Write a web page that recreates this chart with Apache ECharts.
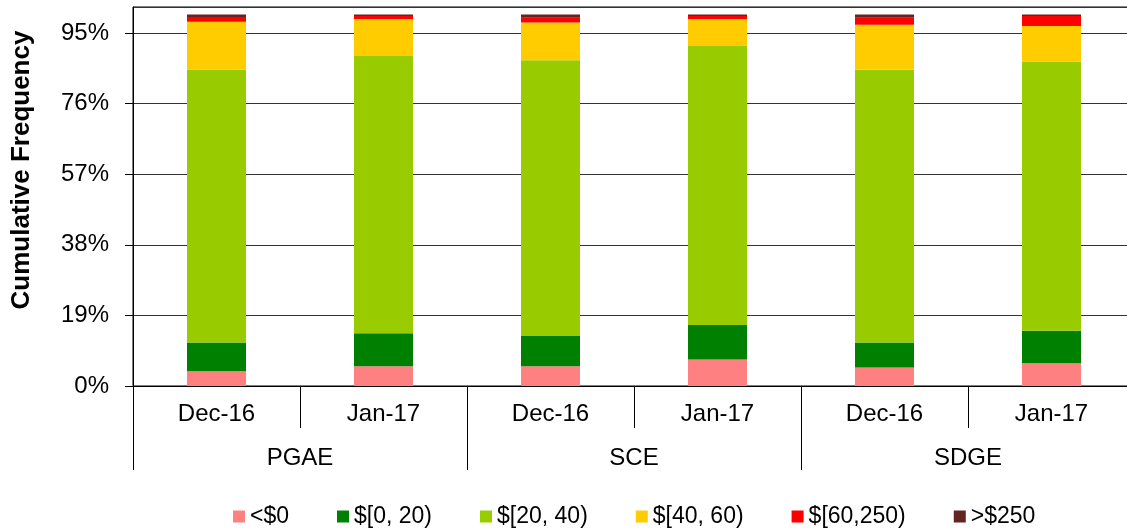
<!DOCTYPE html>
<html>
<head>
<meta charset="utf-8">
<script src="https://cdn.jsdelivr.net/npm/echarts@6/dist/echarts.min.js"></script>
<style>
  html, body { margin: 0; padding: 0; background: #fff; overflow: hidden; }
  #myChart1 { width: 1135px; height: 529px; }
</style>
</head>
<body>
<div id="myChart1"></div>
<script>
// months under each utility, utilities on the second row
var months = ['Dec-16', 'Jan-17', 'Dec-16', 'Jan-17', 'Dec-16', 'Jan-17'];
var utilities = ['PGAE', 'SCE', 'SDGE'];
var yTicks = [0, 19, 38, 57, 76, 95];

// share of each price bin (%), one value per bar
var lessThan0 = [4.0, 5.3, 5.3, 7.1, 5.0, 6.1];
var from0to20 = [7.7, 8.9, 8.3, 9.3, 6.7, 8.8];
var from20to40 = [73.5, 74.6, 74.1, 75.1, 73.4, 72.4];
var from40to60 = [12.8, 10.0, 10.1, 7.3, 12.1, 9.6];
var from60to250 = [1.3, 0.8, 1.3, 0.8, 1.9, 2.7];
var over250 = [0.7, 0.4, 0.9, 0.4, 0.9, 0.4];

var binNames = ['<$0', '$[0, 20)', '$[20, 40)', '$[40, 60)', '$[60,250)', '>$250'];
var binValues = [lessThan0, from0to20, from20to40, from40to60, from60to250, over250];
var binColors = ['#FF8080', '#008000', '#99CC00', '#FFCC00', '#FF0000', '#632523'];

var font = 'Liberation Sans, Arial, sans-serif';

// chart is a bit wider than the window, like the cropped original
var myChart = echarts.init(document.getElementById('myChart1'));

var series = binNames.map(function (name, i) {
    return {
        name: name,
        type: 'bar',
        stack: 'total',
        barWidth: 59,
        itemStyle: { color: binColors[i] },
        data: binValues[i]
    };
});

var option = {
    animation: false,
    color: binColors,
    grid: {
        left: 133,
        top: 7,
        right: 0,
        bottom: 143,
        show: true,
        borderColor: '#000',
        borderWidth: 1
    },
    graphic: [{
        type: 'text',
        x: 22,
        y: 170,
        rotation: Math.PI / 2,
        style: {
            text: 'Cumulative Frequency',
            font: 'bold 26px ' + font,
            fill: '#000',
            textAlign: 'center',
            textVerticalAlign: 'middle'
        }
    }],
    legend: {
        data: binNames,
        left: 228,
        top: 500,
        icon: 'rect',
        itemWidth: 12,
        itemHeight: 12,
        itemGap: 48,
        textStyle: { fontSize: 23, color: '#000', fontFamily: font }
    },
    xAxis: [{
        type: 'category',
        position: 'bottom',
        data: months,
        axisLine: { show: true, lineStyle: { color: '#000', width: 1 } },
        axisTick: { show: true, interval: 0, length: 42, lineStyle: { color: '#000' } },
        axisLabel: { interval: 0, margin: 16, fontSize: 24, color: '#000', fontFamily: font }
    }, {
        type: 'category',
        position: 'bottom',
        data: utilities,
        axisLine: { show: false },
        axisTick: { show: true, interval: 0, length: 84, lineStyle: { color: '#000' } },
        axisLabel: { interval: 0, margin: 60, fontSize: 24, color: '#000', fontFamily: font }
    }],
    yAxis: {
        type: 'value',
        min: yTicks[0],
        max: 102,
        interval: yTicks[1] - yTicks[0],
        axisLine: { show: true, lineStyle: { color: '#000' } },
        axisTick: { show: true, length: 8, lineStyle: { color: '#000' } },
        axisLabel: {
            margin: 24,
            fontSize: 24,
            color: '#000',
            fontFamily: font,
            showMaxLabel: false,
            formatter: function (v) { return yTicks.indexOf(v) >= 0 ? v + '%' : ''; }
        },
        splitLine: { lineStyle: { color: '#333', width: 1 } }
    },
    series: series
};
myChart.setOption(option);
</script>
</body>
</html>
